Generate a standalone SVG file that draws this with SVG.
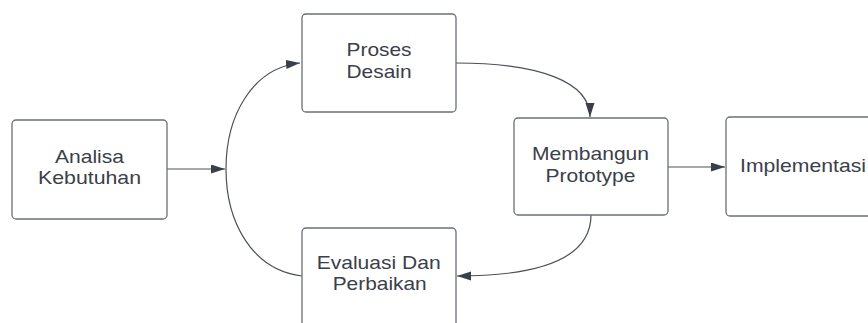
<svg xmlns="http://www.w3.org/2000/svg" width="868" height="323" viewBox="0 0 868 323">
<style>
.box{fill:#ffffff;stroke:#6a7078;stroke-width:1.3}
.lbl{font-family:"Liberation Sans",Arial,sans-serif;font-size:18.5px;fill:#3a4049;text-anchor:middle}
.con{fill:none;stroke:#4a505a;stroke-width:1.2}
</style>
<defs>
<marker id="ah" markerUnits="userSpaceOnUse" markerWidth="14" markerHeight="10" refX="14" refY="4.5" orient="auto">
<path d="M0,0 L14,4.5 L0,9 z" fill="#3a4049"/>
</marker>
</defs>
<rect width="868" height="323" fill="#ffffff"/>
<g id="connectors">
<path class="con" d="M167,169 L225,169" marker-end="url(#ah)"/>
<path class="con" d="M302,276 C252,270 226,222 226,169 C226,116 252,68 300,63" marker-end="url(#ah)"/>
<path class="con" d="M456,63 C540,63 590,82 590,117" marker-end="url(#ah)"/>
<path class="con" d="M591,215 C591,256 545,276 457,276" marker-end="url(#ah)"/>
<path class="con" d="M668,167 L725,167" marker-end="url(#ah)"/>
</g>
<g id="analisa">
<rect class="box" x="12" y="120" width="155" height="99" rx="4"/>
<text class="lbl" x="89.5" y="162.5" textLength="69" lengthAdjust="spacingAndGlyphs">Analisa</text>
<text class="lbl" x="89.5" y="184" textLength="103" lengthAdjust="spacingAndGlyphs">Kebutuhan</text>
</g>
<g id="proses">
<rect class="box" x="302" y="14" width="154" height="98" rx="4"/>
<text class="lbl" x="379" y="56" textLength="65" lengthAdjust="spacingAndGlyphs">Proses</text>
<text class="lbl" x="379" y="77.5" textLength="65" lengthAdjust="spacingAndGlyphs">Desain</text>
</g>
<g id="membangun">
<rect class="box" x="514" y="118" width="154" height="97" rx="4"/>
<text class="lbl" x="590.5" y="159.5" textLength="117" lengthAdjust="spacingAndGlyphs">Membangun</text>
<text class="lbl" x="590.5" y="181.5" textLength="90" lengthAdjust="spacingAndGlyphs">Prototype</text>
</g>
<g id="implementasi">
<rect class="box" x="726" y="117" width="170" height="99" rx="4"/>
<text class="lbl" x="803" y="171.5" textLength="126" lengthAdjust="spacingAndGlyphs">Implementasi</text>
</g>
<g id="evaluasi">
<rect class="box" x="302" y="228" width="154" height="110" rx="4"/>
<text class="lbl" x="378.7" y="269.3" textLength="124" lengthAdjust="spacingAndGlyphs">Evaluasi Dan</text>
<text class="lbl" x="379.7" y="290" textLength="94" lengthAdjust="spacingAndGlyphs">Perbaikan</text>
</g>
</svg>
